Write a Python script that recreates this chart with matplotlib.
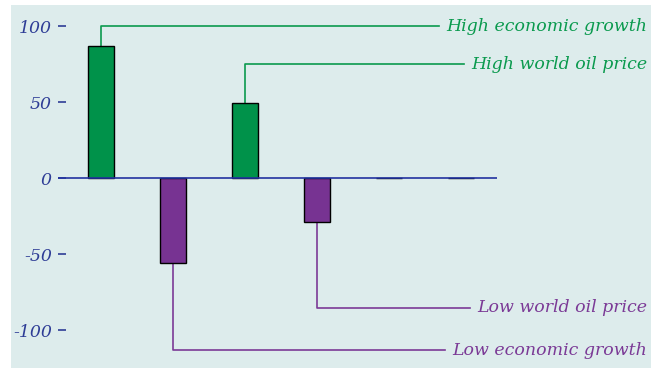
import matplotlib
matplotlib.use("Agg")
import matplotlib.pyplot as plt
from matplotlib.patches import Rectangle

# Bar values
values = [87, -56, 49.5, -29, 0.4, 0.4]
bar_colors = ["#00924a", "#773392", "#00924a", "#773392", "#00924a", "#773392"]

# Callout labels: which bar, y level of the elbow, text
label_texts = ["High economic growth", "Low economic growth",
               "High world oil price", "Low world oil price"]
label_bars = [0, 1, 2, 3]
label_levels = [100, -113, 75, -85]
label_colors = ["#0a9a4e", "#7b3a96", "#0a9a4e", "#7b3a96"]

yticks = [100, 50, 0, -50, -100]

W, H = 661, 368
fig = plt.figure(figsize=(W / 100, H / 100), dpi=100)
fig.patch.set_facecolor("white")

# pale panel behind everything
fig.add_artist(Rectangle((11 / W, 0), (651 - 11) / W, (H - 5) / H,
                         transform=fig.transFigure, facecolor="#ddecec",
                         edgecolor="none", zorder=-5))

ax = fig.add_axes([58 / W, 0, (651 - 58) / W, (H - 5) / H])
ax.set_zorder(1)
ax.set_facecolor("none")
ax.set_xlim(-0.6, -0.6 + 593 / 72)
ax.set_ylim(-124.8, 114)

x = list(range(len(values)))
ax.bar(x, values, width=0.36, color=bar_colors, edgecolor="black",
       linewidth=1.0, zorder=3)
ax.hlines(0, -0.6, 5.5, color="#2233a0", linewidth=1.2, zorder=4)

fnt = dict(family=["DejaVu Serif"], style="italic")

# callout lines and labels
text_x = -0.6 + (647 - 58) / 72
for txt, b, lev, col in zip(label_texts, label_bars, label_levels, label_colors):
    t = ax.text(text_x, lev, txt, ha="right", va="center", color=col,
                fontsize=12.5, **fnt)
    fig.canvas.draw()
    bb = t.get_window_extent()
    x_end = ax.transData.inverted().transform((bb.x0 - 7, 0))[0]
    ax.plot([b, b, x_end], [values[b], lev, lev], color=col,
            linewidth=1.2, zorder=2)

for s in ax.spines.values():
    s.set_visible(False)
ax.set_xticks([])
ax.set_yticks(yticks)
ax.set_yticklabels([str(v) for v in yticks], color="#2e3d96", fontsize=12.5, **fnt)
ax.tick_params(axis="y", direction="in", length=6, width=1.2,
               color="#2e3d96", pad=4.5)

fig.savefig("out.png", dpi=100, facecolor="white")
